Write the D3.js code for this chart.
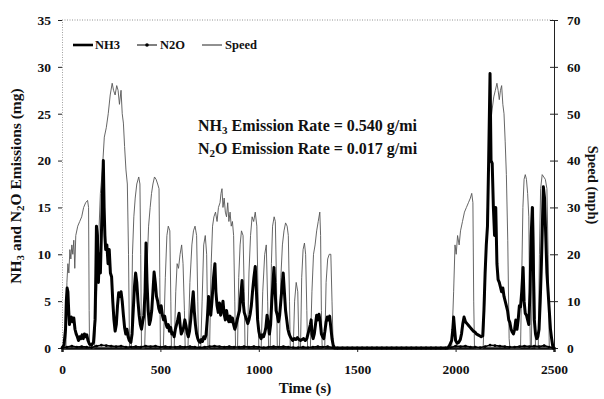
<!DOCTYPE html>
<html>
<head>
<meta charset="utf-8">
<script src="https://cdn.jsdelivr.net/npm/d3@7"></script>
<style>
  body { margin: 0; background: #fff; }
  svg { display: block; }
  svg text { font-family: "Liberation Serif", "DejaVu Serif", serif; font-weight: bold; fill: #111; }
</style>
</head>
<body>
<div class="chart"></div>
<script>
// speed trace, [time s, mph]
const speed = [
  [0,0],[20,0],[25,14],[30,18],[35,16],[40,21],[45,19],[50,22],[55,20],[60,23],[65,17],[70,24],[80,26],[90,27],[100,28],[110,30],[120,31],[130,31.5],[135,30],[138,8],[140,0],[165,0],
  [175,10],[185,22],[195,33],[205,38],[215,45],[225,47],[235,50],[245,54],[255,56.5],[262,55],[270,54],[278,56],[285,55],[292,52],[300,55],[306,50],[312,48],[318,43],[325,38],[332,35],[338,20],[343,0],
  [352,0],[358,20],[365,28],[372,32],[380,35],[390,36.5],[396,35],[400,20],[404,0],
  [420,0],[430,15],[440,26],[448,30],[455,33],[462,35],[470,36.5],[478,36],[486,35],[493,34],[497,15],[500,0],
  [515,0],[525,15],[533,24],[540,26],[548,25],[553,10],[556,0],
  [570,0],[578,12],[585,18],[592,17],[600,20],[608,22],[615,18],[622,8],[626,0],
  [640,0],[650,14],[660,22],[668,25],[676,26],[684,24],[690,10],[694,0],
  [705,0],[712,10],[720,22],[728,24],[735,20],[742,0],[750,0],[758,18],[765,26],[772,28],[780,29],[788,27],[795,30],[803,31],[808,33],[813,34],[818,30],[824,32],[830,29],[836,28],[842,31],[848,27],[854,29],[860,26],[866,27],[872,24],[878,10],[882,0],
  [892,0],[898,15],[905,22],[912,25],[920,24],[926,12],[930,0],
  [942,0],[950,16],[958,24],[966,28],[974,27],[982,29],[990,26],[996,12],[1000,0],
  [1012,0],[1020,12],[1030,20],[1038,22],[1045,10],[1050,0],
  [1058,0],[1064,18],[1070,26],[1078,28],[1084,27],[1090,14],[1094,0],
  [1105,0],[1112,15],[1120,22],[1128,25],[1136,26.7],[1144,26],[1150,24],[1156,10],[1160,0],
  [1175,0],[1182,10],[1190,14],[1198,12],[1204,0],
  [1212,0],[1218,15],[1225,21],[1232,22.4],[1238,20],[1244,8],[1248,0],
  [1262,0],[1270,12],[1278,20],[1286,22],[1294,25],[1302,27],[1310,29],[1314,24],[1318,8],[1322,0],
  [1335,0],[1342,14],[1350,19],[1358,20],[1366,20],[1372,10],[1378,0],
  [1380,0],[1980,0],
  [1990,12],[1997,22],[2003,20],[2010,24],[2018,22],[2025,25],[2035,27],[2045,29],[2055,30],[2065,31],[2075,32],[2082,33],[2088,31],[2092,10],[2096,0],
  [2140,0],[2148,10],[2155,20],[2162,30],[2170,40],[2178,48],[2186,51],[2194,53.6],[2202,55],[2210,56.5],[2216,55],[2222,53],[2228,55],[2234,56],[2240,52],[2246,50],[2252,44],[2258,37],[2265,23],[2272,2],[2276,0],
  [2330,0],[2336,15],[2342,30],[2348,36],[2354,37],[2360,36],[2366,33],[2372,28],[2376,10],[2380,0],
  [2385,0],[2390,18],[2396,30],[2402,12],[2406,0],
  [2420,0],[2426,20],[2432,34],[2440,37],[2448,36.5],[2456,36],[2464,34],[2470,20],[2476,0],[2500,0]
];

// NH3 emissions, [time s, mg]
const nh3 = [
  [0,0],[10,0.3],[18,2],[22,5],[26,6.4],[30,6],[34,4],[38,2.5],[42,3],[48,3.3],[54,2.8],[60,3.2],[66,2],[72,1.5],[78,1.2],[84,0.8],[90,1.2],[96,1],[102,1.4],[108,1],[114,1.5],[120,1.2],[126,1.4],[132,0.8],[140,0.4],[150,0.3],[160,0.6],[168,3],[172,8],[175,13],[180,12],[185,7],[190,10],[195,8],[200,12],[205,16],[210,20],[214,15],[218,12],[222,10.5],[228,11],[234,9],[240,10.5],[246,8],[252,7.6],[258,5],[264,3],[270,1.8],[276,2.5],[282,4.5],[288,5.9],[294,5.5],[300,6],[306,5],[312,3.5],[318,2.2],[324,1.5],[330,2],[336,1.2],[342,0.8],[350,0.6],[356,1.5],[362,4],[368,6.5],[374,8],[380,7],[386,5],[392,3.5],[398,2.5],[404,2],[410,2.8],[416,3.5],[422,6],[427,11.2],[432,7],[438,4],[444,2.5],[450,3],[456,4],[462,6],[468,8.1],[474,7],[480,5.5],[486,5],[492,4.2],[498,3.8],[504,4.5],[510,3.5],[516,3],[522,3.4],[528,2.6],[534,2.2],[540,2.5],[546,1.8],[552,2.2],[558,1.5],[564,1.6],[570,1.2],[576,2],[582,2.5],[588,3],[595,3.7],[600,2.5],[606,1.5],[612,1.8],[618,2.2],[624,3],[630,2.4],[636,1.6],[642,1.2],[648,1.8],[654,3],[660,4.5],[667,6],[672,4],[678,2.5],[684,1.5],[690,1],[696,0.7],[702,0.6],[708,0.9],[714,0.7],[720,1.2],[726,1],[732,1.4],[738,3],[745,5.5],[750,4],[756,3.5],[762,5],[770,7.5],[777,9],[782,6],[788,4.5],[794,3.8],[800,4.8],[806,3.5],[812,4.2],[818,5],[824,3.6],[830,3],[836,4],[842,3.2],[848,2.8],[854,3.4],[860,2.8],[866,3.2],[872,2.5],[878,2],[884,2.4],[890,3],[896,3.5],[902,4],[908,5.5],[915,7.2],[920,5],[926,3.8],[932,3.4],[938,3],[944,2.6],[950,3],[956,3.6],[962,4.5],[968,6],[975,7.5],[982,8.7],[988,6],[994,3],[1000,1.8],[1006,1.2],[1012,1],[1018,1.4],[1024,1.2],[1030,1.6],[1036,2.2],[1042,3.5],[1048,2.5],[1054,1.5],[1060,2.5],[1066,5],[1072,7],[1077,8.6],[1082,6.5],[1088,4],[1094,3.5],[1100,2.8],[1106,3.5],[1112,5],[1118,6.5],[1124,8],[1130,6],[1136,4],[1142,3],[1148,2],[1154,1.5],[1160,1.2],[1166,1],[1172,0.8],[1180,1],[1188,0.9],[1196,1.1],[1204,0.9],[1212,0.8],[1220,0.9],[1228,1],[1236,0.8],[1244,1],[1250,1.5],[1256,2],[1262,2.5],[1266,3],[1270,1.5],[1276,1],[1282,1.5],[1288,2.5],[1294,3.5],[1300,3],[1306,3.6],[1312,2.8],[1318,1.5],[1324,1.2],[1330,1],[1336,1.8],[1342,2.8],[1348,3.3],[1354,3],[1360,3.4],[1366,2.2],[1372,1],[1378,0.3],[1385,0],
  [1960,0],[1970,0.3],[1980,0.8],[1986,2],[1990,3.3],[1995,2],[2000,0.8],[2008,0.5],[2016,0.6],[2024,0.9],[2030,1.5],[2036,2.5],[2043,3.3],[2050,2.8],[2058,2.6],[2066,2.4],[2074,2.2],[2082,2],[2090,1.8],[2098,1.7],[2106,1.5],[2114,1.4],[2122,1.3],[2130,1.2],[2138,1.3],[2144,4],[2150,8],[2156,11],[2162,13],[2168,20],[2175,29.3],[2180,20],[2186,19.7],[2192,15],[2198,12],[2204,15],[2210,9],[2216,7.3],[2222,7],[2228,6.5],[2234,6],[2240,6.4],[2246,5.5],[2252,5],[2258,4.5],[2264,4],[2270,3],[2276,2.7],[2282,2],[2288,1.7],[2294,1.5],[2300,2],[2306,3],[2312,2],[2318,3],[2324,4.5],[2330,4.4],[2336,6],[2343,8.6],[2348,5],[2354,3.7],[2360,3.5],[2366,3],[2372,2.5],[2378,6],[2384,12],[2390,15],[2395,9],[2400,3],[2406,1.5],[2412,1],[2418,1.2],[2424,2],[2430,5],[2436,9],[2442,14],[2446,17.2],[2452,16],[2458,12],[2464,8],[2470,6],[2476,4],[2482,2],[2488,1],[2495,0],[2500,0]
];

// N2O emissions, [time s, mg] - stays near zero
const n2o = [
  [0,0],[25,0.1],[50,0.2],[75,0.1],[100,0.15],[125,0.1],[150,0.05],[175,0.2],[200,0.3],[225,0.25],[250,0.2],[275,0.15],[300,0.2],[325,0.1],[350,0.1],[375,0.15],[400,0.1],[425,0.2],[450,0.15],[475,0.2],[500,0.1],[525,0.15],[550,0.1],[575,0.1],[600,0.15],[625,0.1],[650,0.15],[675,0.1],[700,0.05],[725,0.1],[750,0.15],[775,0.2],[800,0.15],[825,0.1],[850,0.15],[875,0.1],[900,0.1],[925,0.15],[950,0.1],[975,0.15],[1000,0.1],[1025,0.05],[1050,0.1],[1075,0.15],[1100,0.1],[1125,0.15],[1150,0.1],[1175,0.05],[1200,0.05],[1225,0.1],[1250,0.05],[1275,0.1],[1300,0.15],[1325,0.1],[1350,0.15],[1375,0.05],
  [1400,0],[1425,0],[1450,0],[1475,0],[1500,0],[1525,0],[1550,0],[1575,0],[1600,0],[1625,0],[1650,0],[1675,0],[1700,0],[1725,0],[1750,0],[1775,0],[1800,0],[1825,0],[1850,0],[1875,0],[1900,0],[1925,0],[1950,0],
  [1975,0.05],[2000,0.2],[2025,0.15],[2050,0.2],[2075,0.1],[2100,0.1],[2125,0.05],[2150,0.15],[2175,0.3],[2200,0.25],[2225,0.2],[2250,0.15],[2275,0.1],[2300,0.1],[2325,0.15],[2350,0.2],[2375,0.15],[2400,0.2],[2425,0.15],[2450,0.25],[2475,0.1],[2500,0]
];

const xTicks = [0, 500, 1000, 1500, 2000, 2500];
const leftTicks = [0, 5, 10, 15, 20, 25, 30, 35];
const rightTicks = [0, 10, 20, 30, 40, 50, 60, 70];

const W = 604, H = 399;
const svg = d3.select('.chart').append('svg').attr('width', W).attr('height', H);

const x = d3.scaleLinear([0, 2500], [62, 554]);
const yL = d3.scaleLinear([0, 35], [348, 20]);
const yR = d3.scaleLinear([0, 70], [348, 20]);

// frame: dotted top and left, solid right
svg.append('line')
  .attr('x1', 62).attr('x2', 554).attr('y1', 20).attr('y2', 20)
  .attr('stroke', '#777').attr('stroke-width', 0.8).attr('stroke-dasharray', '1,1.5');

const gL = svg.append('g').attr('transform', 'translate(62,0)')
  .call(d3.axisLeft(yL).tickValues(leftTicks).tickSize(4).tickPadding(7));
gL.select('.domain').attr('stroke', '#888').attr('stroke-width', 0.8).attr('stroke-dasharray', '1,1.5');
gL.selectAll('.tick line').attr('stroke', '#222');

const gR = svg.append('g').attr('transform', 'translate(554,0)')
  .call(d3.axisRight(yR).tickValues(rightTicks).tickSize(4).tickPadding(9));
gR.select('.domain').attr('stroke', '#222').attr('stroke-width', 1);
gR.selectAll('.tick line').attr('x1', -4).attr('stroke', '#222');

const gX = svg.append('g').attr('transform', 'translate(0,348)')
  .call(d3.axisBottom(x).tickValues(xTicks).tickFormat(d3.format('d')).tickSize(4).tickPadding(12));
gX.select('.domain').attr('stroke', '#111').attr('stroke-width', 2.4);
gX.selectAll('.tick line').attr('stroke', '#222');

[gL, gR, gX].forEach(g => g.selectAll('.tick text').style('font-size', '13.5px'));

// series
svg.append('path').datum(speed)
  .attr('fill', 'none').attr('stroke', '#555').attr('stroke-width', 0.9)
  .attr('d', d3.line().x(d => x(d[0])).y(d => yR(d[1])));

svg.append('path').datum(nh3)
  .attr('fill', 'none').attr('stroke', '#000').attr('stroke-width', 3).attr('stroke-linejoin', 'round')
  .attr('d', d3.line().x(d => x(d[0])).y(d => yL(d[1])));

svg.append('path').datum(n2o)
  .attr('fill', 'none').attr('stroke', '#000').attr('stroke-width', 1.6)
  .attr('d', d3.line().x(d => x(d[0])).y(d => yL(d[1])));
svg.append('g').selectAll('circle').data(n2o).enter().append('circle')
  .attr('cx', d => x(d[0])).attr('cy', d => yL(d[1])).attr('r', 1.4).attr('fill', '#000');

// legend
const lg = svg.append('g').style('font-size', '12.5px');
lg.append('line').attr('x1', 73).attr('x2', 93).attr('y1', 45).attr('y2', 45).attr('stroke', '#000').attr('stroke-width', 2.6);
lg.append('text').attr('x', 95).attr('y', 49).text('NH3');
lg.append('line').attr('x1', 137).attr('x2', 157).attr('y1', 45).attr('y2', 45).attr('stroke', '#000').attr('stroke-width', 1);
lg.append('circle').attr('cx', 147).attr('cy', 45).attr('r', 1.8).attr('fill', '#000');
lg.append('text').attr('x', 160).attr('y', 49).text('N2O');
lg.append('line').attr('x1', 202).attr('x2', 222).attr('y1', 45).attr('y2', 45).attr('stroke', '#222').attr('stroke-width', 1);
lg.append('text').attr('x', 225).attr('y', 49).text('Speed');

// annotation
const ann = svg.append('g').style('font-size', '16px');
const a1 = ann.append('text').attr('x', 198).attr('y', 131);
a1.append('tspan').text('NH');
a1.append('tspan').style('font-size', '11px').attr('dy', 3).text('3');
a1.append('tspan').attr('dy', -3).text(' Emission Rate = 0.540 g/mi');
const a2 = ann.append('text').attr('x', 198).attr('y', 154);
a2.append('tspan').text('N');
a2.append('tspan').style('font-size', '11px').attr('dy', 3).text('2');
a2.append('tspan').attr('dy', -3).text('O Emission Rate = 0.017 g/mi');

// axis titles
svg.append('text').attr('x', 305).attr('y', 393).attr('text-anchor', 'middle')
  .style('font-size', '15px').text('Time (s)');

const yt = svg.append('text').attr('transform', 'translate(21,186) rotate(-90)')
  .attr('text-anchor', 'middle').style('font-size', '15.5px');
yt.append('tspan').text('NH');
yt.append('tspan').style('font-size', '11px').attr('dy', 3).text('3');
yt.append('tspan').attr('dy', -3).text(' and N');
yt.append('tspan').style('font-size', '11px').attr('dy', 3).text('2');
yt.append('tspan').attr('dy', -3).text('O Emissions (mg)');

svg.append('text').attr('transform', 'translate(588,185) rotate(90)')
  .attr('text-anchor', 'middle').style('font-size', '14.5px').text('Speed (mph)');
</script>
</body>
</html>
